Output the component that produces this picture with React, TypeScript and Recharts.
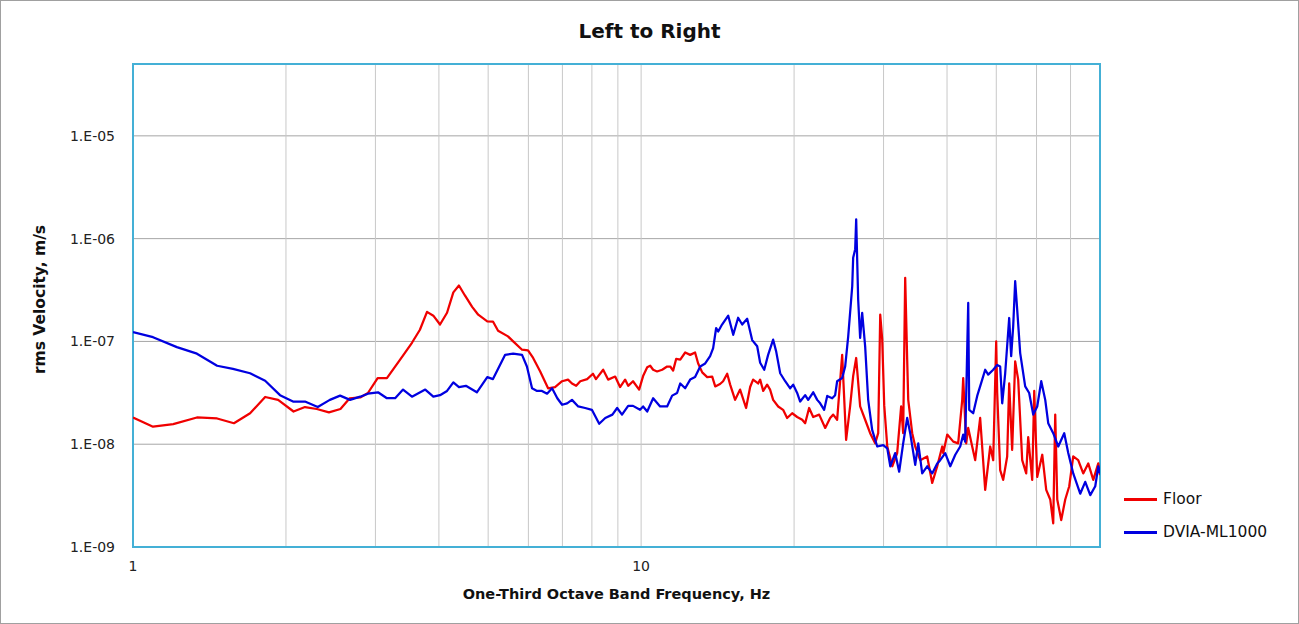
import React from 'react';
import { LineChart, Line, XAxis, YAxis, CartesianGrid, ReferenceArea } from 'recharts';

const FONT = '"DejaVu Sans", "Noto Sans", sans-serif';

const title = 'Left to Right';
const xTitle = 'One-Third Octave Band Frequency, Hz';
const yTitle = 'rms Velocity, m/s';

const xTicks = [1, 2, 3, 4, 5, 6, 7, 8, 9, 10, 20, 30, 40, 50, 60, 70, 80];
const xLabeledTicks = [1, 10];
const yTicks = [1e-9, 1e-8, 1e-7, 1e-6, 1e-5];
const xDomain = [1, 80];
const yDomain = [1e-9, 5e-5];

const seriesNames = ['Floor', 'DVIA-ML1000'];
const seriesColors = ['#f00000', '#0000e0'];

const floorFreq = [
  1.0, 1.095, 1.2, 1.336, 1.464, 1.58, 1.7, 1.82, 1.93, 2.07, 2.18, 2.3, 2.43, 2.56, 2.67, 2.8, 2.9, 3.03, 3.16,
  3.355, 3.54, 3.67, 3.79, 3.9, 4.02, 4.15, 4.27, 4.38, 4.5, 4.65, 4.78, 4.98, 5.11, 5.23, 5.47, 5.6, 5.83, 5.99,
  6.13, 6.33, 6.56, 6.77, 6.99, 7.18, 7.31, 7.45, 7.59, 7.83, 8.04, 8.15, 8.42, 8.61, 8.89, 9.09, 9.3, 9.43, 9.64,
  9.91, 10.09, 10.28, 10.42, 10.56, 10.75, 11.0, 11.25, 11.41, 11.56, 11.72, 11.94, 12.21, 12.49, 12.77, 12.95,
  13.19, 13.49, 13.8, 13.99, 14.3, 14.5, 14.77, 14.97, 15.31, 15.66, 16.09, 16.39, 16.61, 16.99, 17.15, 17.39,
  17.7, 17.94, 18.19, 18.61, 19.03, 19.38, 19.83, 20.28, 20.75, 21.03, 21.41, 21.81, 22.41, 23.03, 23.55, 23.88,
  24.31, 24.87, 25.32, 25.78, 26.14, 26.5, 26.98, 27.6, 28.23, 28.88, 29.28, 29.55, 29.82, 30.09, 30.51, 31.21,
  31.91, 32.49, 32.79, 33.09, 33.39, 33.55, 34.16, 34.63, 35.42, 36.56, 37.4, 38.26, 39.14, 39.32, 40.04, 41.15,
  42.07, 42.85, 43.04, 43.63, 44.03, 44.83, 45.44, 46.48, 47.55, 48.64, 49.31, 49.98, 50.21, 50.89, 51.59, 52.53,
  53.01, 53.73, 54.47, 55.22, 56.23, 57.26, 57.78, 58.84, 59.38, 60.19, 61.58, 62.7, 63.85, 64.72, 65.31, 65.91,
  67.11, 68.34, 69.59, 70.86, 72.48, 74.15, 75.85, 77.6, 79.38, 80,
];
const floorVel = [
  1.82e-8, 1.48e-8, 1.57e-8, 1.82e-8, 1.78e-8, 1.6e-8, 2.0e-8, 2.88e-8, 2.7e-8, 2.08e-8, 2.3e-8, 2.2e-8, 2.04e-8,
  2.2e-8, 2.8e-8, 2.85e-8, 3.15e-8, 4.4e-8, 4.4e-8,
  6.65e-8, 9.7e-8, 1.3e-7, 1.94e-7, 1.78e-7, 1.46e-7, 1.9e-7, 3.0e-7, 3.5e-7, 2.8e-7, 2.17e-7, 1.82e-7, 1.57e-7,
  1.56e-7, 1.27e-7, 1.12e-7, 1.0e-7, 8.3e-8, 8.2e-8,
  6.9e-8, 5.1e-8, 3.5e-8, 3.6e-8, 4.1e-8, 4.25e-8, 3.9e-8, 3.7e-8, 4.1e-8, 4.3e-8, 4.85e-8, 4.3e-8, 5.3e-8,
  4.25e-8, 4.55e-8, 3.6e-8, 4.25e-8, 3.7e-8, 4.1e-8,
  3.4e-8, 4.6e-8, 5.6e-8, 5.8e-8, 5.3e-8, 5.1e-8, 5.3e-8, 5.7e-8, 5.7e-8, 5.2e-8, 6.75e-8, 6.65e-8, 7.8e-8, 7.4e-8,
  7.8e-8, 6.1e-8,
  5.0e-8, 4.5e-8, 4.55e-8, 3.65e-8, 3.85e-8, 4.1e-8, 4.85e-8, 3.8e-8, 2.7e-8, 3.4e-8, 2.25e-8, 3.6e-8, 4.25e-8,
  3.9e-8, 4.25e-8, 3.3e-8,
  3.8e-8, 3.4e-8, 2.7e-8, 2.33e-8, 2.16e-8, 1.8e-8, 2.0e-8, 1.84e-8, 1.73e-8, 1.6e-8, 2.25e-8, 1.84e-8, 1.94e-8,
  1.44e-8, 1.8e-8, 1.94e-8,
  1.73e-8, 7.4e-8, 1.1e-8, 2.33e-8, 4.6e-8, 6.9e-8, 2.33e-8, 1.73e-8, 1.28e-8, 1.02e-8, 1.28e-8, 1.82e-7, 1.04e-7,
  2.4e-8, 9.5e-9, 6.1e-9,
  8.2e-9, 2.33e-8, 1.28e-8, 4.16e-7, 6.65e-8, 2.7e-8, 1.28e-8, 9.5e-9, 7.0e-9, 7.6e-9, 4.2e-9, 6.1e-9, 9.5e-9,
  8.2e-9, 1.24e-8, 1.06e-8,
  1.02e-8, 2.7e-8, 4.4e-8, 1.02e-8, 1.44e-8, 9.5e-9, 7.0e-9, 1.8e-8, 3.6e-9, 9.5e-9, 7.0e-9, 1.0e-7, 3.15e-8,
  5.6e-9, 4.5e-9, 7.6e-9,
  3.9e-8, 8.8e-9, 6.4e-8, 4.25e-8, 7.0e-9, 5.2e-9, 1.17e-8, 4.5e-9, 3.3e-8, 4.8e-9, 7.9e-9, 3.6e-9, 2.9e-9, 1.7e-9,
  1.94e-8, 2.9e-9,
  1.83e-9, 2.9e-9, 3.9e-9, 7.6e-9, 7.0e-9, 5.2e-9, 6.5e-9, 4.5e-9, 6.5e-9, 5.0e-9,
];

const dviaFreq = [
  1.0, 1.095, 1.22, 1.336, 1.464, 1.573, 1.7, 1.82, 1.947, 2.065, 2.18, 2.31, 2.44, 2.556, 2.674, 2.8, 2.9, 3.035,
  3.16, 3.28, 3.4, 3.54, 3.76, 3.9, 4.02, 4.15, 4.27, 4.38, 4.52, 4.75, 4.98, 5.11, 5.4, 5.6, 5.83, 5.96, 6.1,
  6.24, 6.38, 6.53, 6.68, 6.84, 6.99, 7.15, 7.31, 7.52, 7.76, 8.0, 8.27, 8.5, 8.78, 8.97, 9.17, 9.43, 9.64, 9.95,
  10.09, 10.28, 10.56, 10.9, 11.25, 11.51, 11.77, 11.94, 12.21, 12.49, 12.77, 13.07, 13.37, 13.67, 13.86, 14.05,
  14.18, 14.43, 14.84, 15.18, 15.52, 15.81, 16.17, 16.54, 16.92, 17.15, 17.47, 17.78, 18.19, 18.44, 18.78, 19.21,
  19.65, 19.92, 20.28, 20.56, 21.03, 21.32, 21.81, 22.21, 22.51, 22.92, 23.24, 23.77, 24.09, 24.31, 24.87, 25.21,
  25.56, 26.03, 26.14, 26.38, 26.5, 26.74, 26.98, 27.23, 27.6, 27.98, 28.49, 29.15, 29.96, 30.51, 30.93, 31.62,
  32.2, 32.79, 33.39, 33.85, 34.63, 35.11, 35.74, 36.56, 37.4, 38.26, 38.78, 39.67, 40.59, 41.52, 42.46, 43.04,
  43.43, 44.03, 44.23, 45.03, 45.86, 46.91, 47.55, 48.2, 49.31, 50.21, 50.89, 51.36, 52.06, 53.01, 53.49, 53.98,
  54.47, 54.97, 55.72, 57.0, 58.04, 59.11, 60.19, 61.3, 62.42, 63.27, 64.72, 66.21, 68.03, 69.28, 70.86, 73.14,
  74.82, 76.55, 78.3, 79.38, 80,
];
const dviaVel = [
  1.23e-7, 1.1e-7, 8.8e-8, 7.6e-8, 5.8e-8, 5.4e-8, 4.9e-8, 4.15e-8, 3.0e-8, 2.6e-8, 2.6e-8, 2.3e-8, 2.7e-8, 2.97e-8,
  2.7e-8, 2.9e-8, 3.1e-8, 3.2e-8,
  2.8e-8, 2.8e-8, 3.4e-8, 2.9e-8, 3.4e-8, 2.9e-8, 3.0e-8, 3.3e-8, 4.0e-8, 3.6e-8, 3.7e-8, 3.2e-8, 4.5e-8, 4.3e-8,
  7.4e-8, 7.6e-8, 7.4e-8, 5.7e-8, 3.5e-8,
  3.3e-8, 3.3e-8, 3.1e-8, 3.5e-8, 2.8e-8, 2.42e-8, 2.5e-8, 2.7e-8, 2.33e-8, 2.25e-8, 2.16e-8, 1.58e-8, 1.8e-8,
  1.94e-8, 2.25e-8, 1.94e-8, 2.36e-8, 2.36e-8, 2.16e-8,
  2.33e-8, 2.08e-8, 2.8e-8, 2.33e-8, 2.33e-8, 2.97e-8, 3.15e-8, 3.9e-8, 3.5e-8, 4.25e-8, 4.5e-8, 5.7e-8, 6.1e-8,
  7.2e-8, 8.6e-8, 1.35e-7,
  1.25e-7, 1.46e-7, 1.78e-7, 1.16e-7, 1.7e-7, 1.46e-7, 1.66e-7, 1.03e-7, 8.96e-8, 6.2e-8, 5.3e-8, 7.4e-8, 1.04e-7,
  8.0e-8, 4.9e-8, 4.1e-8,
  3.5e-8, 3.8e-8, 3.15e-8, 2.6e-8, 3.0e-8, 2.7e-8, 3.2e-8, 2.7e-8, 2.5e-8, 2.16e-8, 2.95e-8, 2.8e-8, 3.0e-8, 4.1e-8,
  4.4e-8, 5.7e-8,
  1.12e-7, 3.44e-7, 6.5e-7, 7.9e-7, 1.54e-6, 2.55e-7, 1.08e-7, 1.9e-7, 8.96e-8, 2.7e-8, 1.38e-8, 9.5e-9, 9.8e-9,
  9.1e-9, 6.1e-9, 8.2e-9,
  5.4e-9, 1.02e-8, 1.8e-8, 1.28e-8, 6.3e-9, 1.02e-8, 5.2e-9, 6.1e-9, 5.2e-9, 6.5e-9, 7.0e-9, 8.2e-9, 6.1e-9, 7.9e-9,
  9.5e-9, 1.24e-8,
  1.06e-8, 2.37e-7, 2.16e-8, 2.0e-8, 2.95e-8, 4.25e-8, 5.3e-8, 4.75e-8, 5.3e-8, 5.9e-8, 5.7e-8, 2.5e-8, 4.9e-8,
  1.69e-7, 7.2e-8, 1.4e-7,
  3.85e-7, 2.04e-7, 7.7e-8, 3.65e-8, 3.15e-8, 1.94e-8, 2.33e-8, 4.1e-8, 2.7e-8, 1.6e-8, 1.28e-8, 9.5e-9, 1.28e-8,
  8.2e-9, 5.2e-9, 3.3e-9,
  4.3e-9, 3.2e-9, 3.9e-9, 6.1e-9, 5.2e-9,
];

const floorData = floorFreq.map((f, i) => ({ f, v: floorVel[i] }));
const dviaData = dviaFreq.map((f, i) => ({ f, v: dviaVel[i] }));
const seriesData = [floorData, dviaData];

const fmtX = (v: number) => (xLabeledTicks.includes(v) ? String(v) : '');
const fmtY = (v: number) => {
  const e = Math.round(Math.log10(v));
  return `1.E${e < 0 ? '-' : '+'}${String(Math.abs(e)).padStart(2, '0')}`;
};

const YTitle = (props: any) => {
  const vb = props.viewBox || {};
  const cx = vb.x + 40;
  const cy = vb.y + vb.height / 2 - 6;
  return (
    <text x={cx} y={cy} transform={`rotate(-90, ${cx}, ${cy})`} textAnchor="middle" dominantBaseline="central"
      fontFamily={FONT} fontSize={15.5} fontWeight="bold" fill="#111">
      {yTitle}
    </text>
  );
};

const XTitle = (props: any) => {
  const vb = props.viewBox || {};
  const cx = vb.x + vb.width / 2;
  const cy = vb.y + 47;
  return (
    <text x={cx} y={cy} textAnchor="middle" dominantBaseline="central" fontFamily={FONT} fontSize={14.5}
      fontWeight="bold" fill="#111">
      {xTitle}
    </text>
  );
};

export default function App() {
  return (
    <div style={{ position: 'fixed', left: 0, top: 0, width: 1299, height: 624, background: '#fff', fontFamily: FONT }}>
      <div style={{ position: 'absolute', left: 0, top: 19, width: 1299, textAlign: 'center', fontSize: 20,
        lineHeight: '24px', fontWeight: 'bold', color: '#111' }}>
        {title}
      </div>
      <LineChart width={1299} height={624} margin={{ top: 64, right: 199, bottom: 0, left: 0 }}>
        <CartesianGrid vertical={false} stroke="#a6a6a6" strokeWidth={1} />
        <CartesianGrid horizontal={false} stroke="#c8c8c8" strokeWidth={1} />
        <XAxis dataKey="f" type="number" scale="log" domain={xDomain} ticks={xTicks} interval={0}
          tickFormatter={fmtX} allowDataOverflow height={77} axisLine={false} tickLine={false} tickSize={0}
          tickMargin={14} tick={{ fontFamily: FONT, fontSize: 14, fill: '#222' }} label={<XTitle />} />
        <YAxis dataKey="v" type="number" scale="log" domain={yDomain} ticks={yTicks} interval={0}
          tickFormatter={fmtY} allowDataOverflow width={133} axisLine={false} tickLine={false} tickSize={0}
          tickMargin={18} tick={{ fontFamily: FONT, fontSize: 14, fill: '#222' }} label={<YTitle />} />
        {seriesData.map((d, i) => (
          <Line key={seriesNames[i]} data={d} dataKey="v" name={seriesNames[i]} type="linear" stroke={seriesColors[i]}
            strokeWidth={2.25} dot={false} activeDot={false} isAnimationActive={false} strokeLinejoin="round" />
        ))}
        <ReferenceArea x1={xDomain[0]} x2={xDomain[1]} y1={yDomain[0]} y2={yDomain[1]} fill="none"
          fillOpacity={0} stroke="#44b0d6" strokeWidth={2} ifOverflow="visible" />
      </LineChart>
      <div style={{ position: 'absolute', left: 1124, top: 489 }}>
        {seriesNames.map((n, i) => (
          <div key={n} style={{ display: 'flex', alignItems: 'center', height: 20, marginBottom: 13 }}>
            <div style={{ width: 33, height: 3, background: seriesColors[i], marginRight: 6 }} />
            <span style={{ fontSize: 15.5, color: '#111' }}>{n}</span>
          </div>
        ))}
      </div>
      <div style={{ position: 'absolute', left: 0, top: 0, width: 1299, height: 624, boxSizing: 'border-box',
        border: '1px solid #a0a0a0', pointerEvents: 'none' }} />
    </div>
  );
}
